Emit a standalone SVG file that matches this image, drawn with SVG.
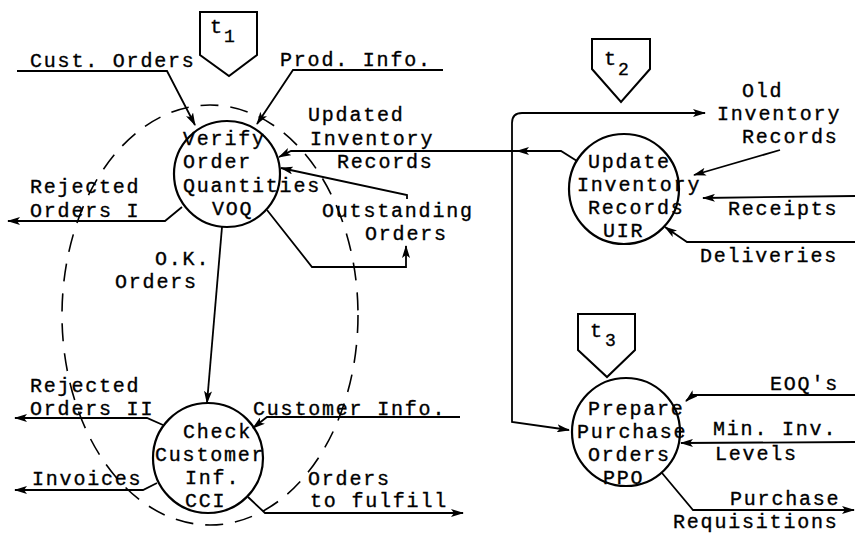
<svg xmlns="http://www.w3.org/2000/svg" width="855" height="534" viewBox="0 0 855 534">
<style>
text{font-family:"Liberation Mono","Courier New",monospace;font-size:20px;letter-spacing:1.8px;fill:#000;stroke:#000;stroke-width:0.35}
.sub{font-size:18px;letter-spacing:0}
.proc{fill:none;stroke:#000;stroke-width:2.2}
.tri{fill:none;stroke:#000;stroke-width:2}
.flow{fill:none;stroke:#000;stroke-width:1.8;marker-end:url(#ah)}
.bound{fill:none;stroke:#000;stroke-width:1.6;stroke-dasharray:18 12}
</style>
<defs>
<marker id="ah" viewBox="0 0 13 8" refX="12" refY="4" markerWidth="13" markerHeight="8" markerUnits="userSpaceOnUse" orient="auto"><path d="M0,0 L13,4 L0,8 L3,4 Z" fill="#000"/></marker>
</defs>
<rect width="855" height="534" fill="#fff"/>
<g id="boundary"><ellipse class="bound" cx="210" cy="315" rx="148" ry="210"/></g>
<g id="t1"><path class="tri" d="M200,12 L257,12 L257,55 L229,76 L200,55 Z"/><text x="210" y="33">t</text><text class="sub" x="224" y="42">1</text></g>
<g id="t2"><path class="tri" d="M592,39 L650,39 L650,69 L621,102 L592,69 Z"/><text x="604" y="65">t</text><text class="sub" x="618" y="75">2</text></g>
<g id="t3"><path class="tri" d="M578,314 L635,314 L635,350 L607,377 L578,350 Z"/><text x="590" y="337">t</text><text class="sub" x="605" y="346">3</text></g>
<g id="VOQ"><circle class="proc" cx="227" cy="174" r="53"/><text x="183" y="145">Verify</text><text x="183" y="168">Order</text><text x="183" y="192">Quantities</text><text x="212" y="215">VOQ</text></g>
<g id="CCI"><circle class="proc" cx="208" cy="458" r="55"/><text x="183" y="438">Check</text><text x="155" y="461">Customer</text><text x="185" y="484">Inf.</text><text x="185" y="507">CCI</text></g>
<g id="UIR"><circle class="proc" cx="624" cy="189" r="55"/><text x="588" y="168">Update</text><text x="577" y="191">Inventory</text><text x="588" y="214">Records</text><text x="603" y="237">UIR</text></g>
<g id="PPO"><circle class="proc" cx="626" cy="432" r="54"/><text x="588" y="415">Prepare</text><text x="577" y="438">Purchase</text><text x="588" y="461">Orders</text><text x="603" y="484">PPO</text></g>
<g id="connectors">
<path class="flow" d="M17,71 L167,71 L195,125"/>
<path class="flow" d="M443,70 L293,70 L257,124"/>
<path class="flow" d="M577,161 L561,151 L517,151"/>
<path class="flow" d="M517,151 L291,151 L279,157"/>
<path class="flow" d="M512,151 L512,123 Q512,113 522,113 L705,113"/>
<path class="flow" d="M512,151 L512,422 L569,430"/>
<path class="flow" d="M407,199 L407,195 L281,168"/>
<path class="flow" d="M267,210 L312,267 L406,267 L406,246"/>
<path class="flow" d="M182,207 L165,221 L8,221"/>
<path class="flow" d="M222,227 L207,403"/>
<path class="flow" d="M163,425 L147,418 L15,418"/>
<path class="flow" d="M157,483 L143,490 L15,490"/>
<path class="flow" d="M460,417 L267,417 L253,428"/>
<path class="flow" d="M248,497 L265,513 L463,513"/>
<path class="flow" d="M780,150 L694,175"/>
<path class="flow" d="M855,196 L703,198"/>
<path class="flow" d="M855,242 L687,242 L665,227"/>
<path class="flow" d="M855,395 L693,395 L686,401"/>
<path class="flow" d="M855,442 L681,443"/>
<path class="flow" d="M662,473 L693,510 L854,510"/>
</g>
<g id="labels">
<text x="30" y="67">Cust. Orders</text>
<text x="280" y="66">Prod. Info.</text>
<text x="308" y="121">Updated</text>
<text x="310" y="145">Inventory</text>
<text x="337" y="168">Records</text>
<text x="322" y="217">Outstanding</text>
<text x="365" y="240">Orders</text>
<text x="30" y="193">Rejected</text>
<text x="30" y="217">Orders I</text>
<text x="155" y="265">O.K.</text>
<text x="115" y="288">Orders</text>
<text x="30" y="392">Rejected</text>
<text x="30" y="415">Orders II</text>
<text x="32" y="485">Invoices</text>
<text x="253" y="415">Customer Info.</text>
<text x="308" y="485">Orders</text>
<text x="310" y="507">to fulfill</text>
<text x="742" y="97">Old</text>
<text x="717" y="120">Inventory</text>
<text x="742" y="143">Records</text>
<text x="728" y="215">Receipts</text>
<text x="700" y="262">Deliveries</text>
<text x="770" y="390">EOQ's</text>
<text x="713" y="435">Min. Inv.</text>
<text x="715" y="460">Levels</text>
<text x="730" y="505">Purchase</text>
<text x="673" y="528">Requisitions</text>
</g>
</svg>
